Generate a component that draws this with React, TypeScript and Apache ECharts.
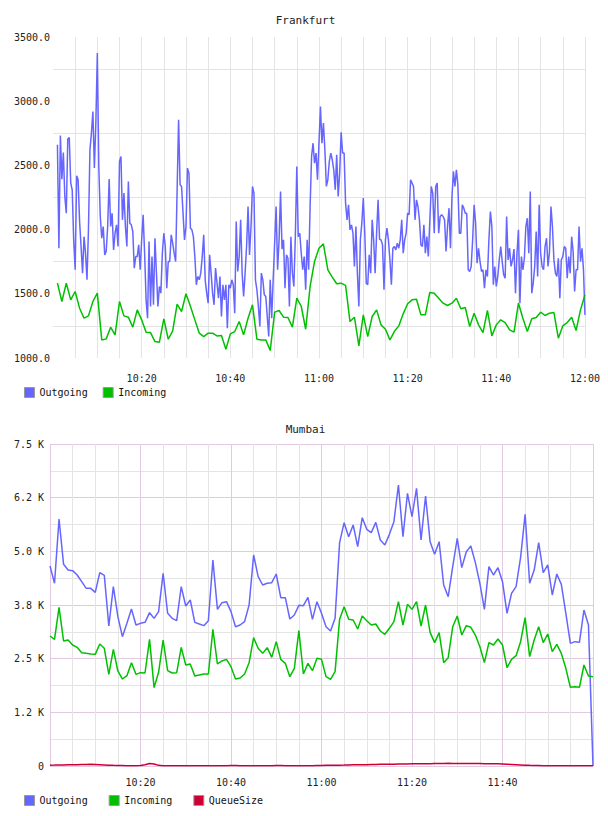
import React, { useEffect, useRef } from 'react';
import * as echarts from 'echarts';

const FONT = '"DejaVu Sans Mono", monospace';
const TEXT = '#222';

// Frankfurt: outgoing sampled every 20 s, incoming once a minute, both from 10:01
const frankfurtStart = 601; // minutes after midnight
const frankfurtOutgoingStep = 1 / 3; // minutes
const frankfurtIncomingStep = 1;
const frankfurtOutgoing = [
  2660, 1855, 2733, 2393, 2601, 2258, 2128, 2705, 2718, 2362,
  2310, 1920, 1687, 2419, 2388, 2063, 1868, 1661, 1945, 1816,
  1609, 1998, 2622, 2751, 2920, 2479, 2829, 3375, 2492, 2102,
  1933, 2024, 1803, 1829, 2024, 2393, 2024, 2128, 1842, 1972,
  2037, 1868, 2531, 2570, 2076, 2284, 2024, 1868, 2375, 2050,
  2037, 1985, 1700, 1790, 1790, 1881, 1687, 1920, 2115, 1816,
  1453, 1310, 1907, 1401, 1790, 1414, 1933, 1661, 1401, 1557,
  1505, 1816, 1972, 1868, 1544, 1751, 1751, 1959, 1894, 1816,
  1751, 2310, 2855, 2349, 2336, 2128, 1920, 2024, 2479, 2440,
  2011, 1998, 1945, 1790, 1570, 1635, 1609, 1661, 1790, 1959,
  1609, 1505, 1427, 1803, 1661, 1505, 1414, 1700, 1583, 1466,
  1635, 1323, 1570, 1453, 1570, 1232, 1570, 1544, 1609, 1570,
  1349, 2063, 1674, 1790, 2076, 1661, 1479, 1661, 1868, 2180,
  1803, 2024, 2336, 2284, 1609, 1531, 1401, 1245, 1661, 1609,
  1492, 1479, 1323, 1167, 1609, 1310, 1609, 1894, 2180, 1687,
  1920, 2297, 1848, 1920, 1544, 1803, 1777, 1401, 1945, 1661,
  1557, 1945, 2492, 1945, 1972, 1816, 1687, 1790, 1531, 1920,
  1687, 2180, 2570, 2673, 2518, 2596, 2388, 2673, 2959,
  2673, 2829, 2622, 2336, 2388, 2531, 2596, 2544, 2466, 2310,
  2583, 2258, 2440, 2757, 2596, 2596, 2206, 2076, 2193, 1998,
  2037, 1972, 1713, 2024, 1661, 1401, 1920, 2050, 2245, 1972,
  1583, 1570, 1803, 1661, 2076, 1920, 1661, 1972, 2232, 1925,
  1920, 1881, 1531, 1920, 2011, 1920, 1764, 1570, 1855, 1868,
  1842, 1894, 1855, 1920, 2076, 1816, 1920, 1972, 2128, 2115,
  2388, 2362, 2336, 2076, 2232, 2180, 2076, 1881, 1868, 2037,
  1816, 1945, 1790, 2063, 2336, 2284, 1972, 2336, 2362, 1972,
  2102, 2115, 2102, 2076, 1829, 2024, 2167, 1855, 2258, 2453,
  2336, 2466, 2349, 1972, 1972, 2193, 2167, 2128, 2128, 1687,
  1674, 1713, 1920, 2193, 2050, 1738, 1855, 1751, 1674, 1687,
  1544, 1687, 1635, 1920, 2141, 2024, 1570, 1713, 1557, 1635,
  1764, 1868, 1751, 1648, 1622, 2102, 1764, 1855, 1713, 1764,
  1848, 1505, 1816, 1998, 1427, 1790, 1687, 1777, 2024, 2089,
  1816, 2297, 1505, 1583, 1713, 1985, 1635, 2193, 1816, 1713,
  1687, 1868, 1933, 1713, 1829, 2180, 2024, 1764, 1661, 1635,
  1777, 1466, 1764, 1790, 1868, 1855, 1622, 1790, 1661, 1945,
  1829, 1518, 1687, 1687, 2024, 1751, 1855, 1687, 1336,
];
const frankfurtIncoming = [
  1583, 1440, 1583, 1453, 1518, 1388, 1310, 1328, 1440, 1505,
  1141, 1149, 1240, 1180, 1440, 1328, 1318, 1240, 1375, 1297,
  1201, 1198, 1128, 1123, 1305, 1146, 1211, 1419, 1362, 1500,
  1403, 1297, 1193, 1167, 1193, 1193, 1172, 1175, 1068, 1188,
  1206, 1284, 1180, 1310, 1414, 1146, 1141, 1141, 1058, 1357,
  1370, 1318, 1315, 1240, 1466, 1403, 1224, 1557, 1752, 1855,
  1889, 1687, 1630, 1578, 1583, 1565, 1284, 1318, 1094, 1336,
  1167, 1323, 1375, 1258, 1224, 1141, 1206, 1250, 1344, 1422,
  1453, 1458, 1336, 1336, 1510, 1505, 1466, 1427, 1409, 1427,
  1466, 1383, 1393, 1245, 1349, 1258, 1198, 1370, 1172, 1258,
  1297, 1276, 1219, 1201, 1427, 1310, 1206, 1305, 1315, 1357,
  1331, 1349, 1354, 1154, 1250, 1276, 1318, 1214, 1375, 1492,
];

// Mumbai: one sample a minute from 10:00 to 12:00
const mumbaiStart = 600;
const mumbaiStep = 1;
const mumbaiOutgoing = [
  4658, 4255, 5753, 4697, 4565, 4550, 4449, 4293, 4138, 4138,
  4045, 4503, 4441, 3261, 4177, 3478, 3012, 3323, 3657, 3284,
  3323, 3346, 3571, 3439, 3595, 4488, 3556, 3439, 3385, 4177,
  3727, 3866, 3346, 3307, 3269, 3385, 4798, 3649, 3804, 3828,
  3595, 3245, 3284, 3362, 3750, 4915, 4410, 4216, 4255, 4270,
  4472, 3921, 3921, 3424, 3517, 3742, 3734, 3929, 3416, 3828,
  3556, 3245, 3144, 3439, 5202, 5668, 5342, 5613, 5109, 5784,
  5512, 5435, 5675, 5264, 5148, 5396, 5691, 6545, 5342, 6351,
  5807, 6467, 5264, 6289, 5225, 4930, 5225, 4216, 3944, 4643,
  5303, 4620, 4992, 5124, 4736, 4255, 3649, 4643, 4449, 4620,
  4293, 3556, 4022, 4177, 4860, 5862, 4255, 4565, 5202, 4503,
  4682, 3983, 4472, 4231, 3556, 2857, 2896, 2880, 3634, 3284,
  0,
];
const mumbaiIncoming = [
  3028, 2950, 3696, 2912, 2935, 2818, 2764, 2640, 2624, 2609,
  2601, 2842, 2741, 2135, 2717, 2213, 2026, 2104, 2407, 2135,
  2174, 2166, 2950, 1825, 2182, 2935, 2221, 2166, 2174, 2764,
  2352, 2376, 2096, 2120, 2143, 2143, 3183, 2376, 2446, 2484,
  2314, 2026, 2050, 2143, 2407, 2989, 2741, 2624, 2756, 2531,
  2896, 2484, 2391, 2081, 2275, 3152, 2143, 2391, 2221, 2508,
  2484, 2081, 2019, 2197, 3416, 3711, 3416, 3401, 3191, 3494,
  3385, 3284, 3307, 3144, 3067, 3207, 3362, 3828, 3284, 3766,
  3649, 3828, 3261, 3750, 3113, 2873, 3106, 2407, 2523, 3245,
  3494, 3051, 3269, 3230, 3051, 2779, 2407, 2873, 2818, 2958,
  2818, 2290, 2484, 2570, 2896, 3455, 2547, 2935, 3245, 2873,
  3075, 2663, 2834, 2624, 2275, 1832, 1848, 1832, 2352, 2096,
  2081,
];
const mumbaiQueueSize = [
  20, 22, 25, 25, 28, 30, 32, 35, 35, 38,
  35, 30, 25, 20, 15, 12, 10, 8, 8, 8,
  10, 30, 60, 45, 15, 8, 8, 6, 5, 5,
  5, 6, 6, 5, 5, 5, 5, 5, 6, 8,
  10, 10, 8, 6, 6, 5, 5, 5, 5, 8,
  12, 10, 8, 6, 5, 5, 5, 6, 8, 10,
  12, 15, 15, 18, 20, 22, 25, 28, 30, 30,
  32, 35, 35, 38, 40, 40, 42, 45, 45, 48,
  50, 50, 52, 55, 55, 58, 60, 60, 62, 60,
  60, 58, 58, 60, 60, 58, 55, 55, 52, 50,
  45, 40, 35, 30, 25, 20, 15, 12, 10, 8,
  6, 5, 5, 5, 5, 5, 5, 5, 5, 5,
  5,
];

const mumbaiTickLabels = ['0', '1.2 K', '2.5 K', '3.8 K', '5.0 K', '6.2 K', '7.5 K'];

const COLORS = { Outgoing: '#6666ff', Incoming: '#00c000', QueueSize: '#cc0033' };
const GRAY = '#e4e4e4';
const PINK = '#e2c8e2';

const toPairs = (values: number[], start: number, step: number) =>
  values.map((v, i) => [start + i * step, v]);

const clock = (m: number) => `${Math.floor(m / 60)}:${String(Math.round(m % 60)).padStart(2, '0')}`;

const labelStyle = { fontFamily: FONT, fontSize: 10, color: TEXT };

function lineSeries(name: string, data: number[][], axis: number) {
  return {
    name,
    type: 'line',
    xAxisIndex: axis,
    yAxisIndex: axis,
    data,
    showSymbol: false,
    color: (COLORS as any)[name],
    lineStyle: { width: 1.5, color: (COLORS as any)[name] },
    z: 3,
  };
}

export default function App() {
  const ref = useRef<HTMLDivElement>(null);

  useEffect(() => {
    if (!ref.current) return;
    const chart = echarts.init(ref.current, undefined, { renderer: 'svg' });
    const legendBase = {
      orient: 'horizontal',
      left: 24,
      padding: 0,
      itemWidth: 10,
      itemHeight: 10,
      icon: 'rect',
      textStyle: { ...labelStyle, color: '#111' },
      itemStyle: { borderColor: '#999', borderWidth: 1 },
      selectedMode: false,
    };
    chart.setOption({
      animation: false,
      backgroundColor: '#fff',
      graphic: [
        { type: 'text', x: 305.5, y: 20, style: { text: 'Frankfurt', align: 'center', verticalAlign: 'middle', font: `11px ${FONT}`, fill: TEXT } },
        { type: 'text', x: 305.5, y: 429, style: { text: 'Mumbai', align: 'center', verticalAlign: 'middle', font: `11px ${FONT}`, fill: TEXT } },
      ],
      legend: [
        { ...legendBase, top: 387, itemGap: 15, data: ['Outgoing', 'Incoming'] },
        { ...legendBase, top: 795, itemGap: 21, data: ['Outgoing', 'Incoming', 'QueueSize'] },
      ],
      grid: [
        { left: 53, top: 37, width: 540, height: 321, show: false },
        { left: 50, top: 444, width: 543, height: 322, show: false },
      ],
      xAxis: [
        {
          gridIndex: 0, type: 'value', min: 600, max: 720, interval: 5,
          axisLine: { show: false }, axisTick: { show: false },
          axisLabel: { ...labelStyle, margin: 15, formatter: (m: number) => (m % 20 === 0 && m !== 600 ? clock(m) : '') },
          splitLine: { show: true, showMinLine: false, lineStyle: { color: GRAY, width: 1 } },
        },
        {
          gridIndex: 1, type: 'value', min: 600, max: 720, interval: 5,
          axisLine: { show: false }, axisTick: { show: false },
          axisLabel: { ...labelStyle, margin: 11, formatter: (m: number) => (m % 20 === 0 && m !== 600 && m !== 720 ? clock(m) : '') },
          splitLine: { show: true, lineStyle: { color: [PINK, GRAY, GRAY, GRAY], width: 1 } },
        },
      ],
      yAxis: [
        {
          gridIndex: 0, type: 'value', min: 1000, max: 3500, interval: 250,
          axisLine: { show: false }, axisTick: { show: false },
          axisLabel: { ...labelStyle, margin: 3, formatter: (v: number) => (v % 500 === 0 ? v.toFixed(1) : '') },
          splitLine: { show: true, lineStyle: { color: ['rgba(0,0,0,0)', GRAY], width: 1 } },
        },
        {
          gridIndex: 1, type: 'value', min: 0, max: 7500, interval: 625,
          axisLine: { show: false }, axisTick: { show: false },
          axisLabel: { ...labelStyle, margin: 6, formatter: (v: number) => (v % 1250 === 0 ? mumbaiTickLabels[v / 1250] : '') },
          splitLine: { show: true, lineStyle: { color: [PINK, GRAY], width: 1 } },
        },
      ],
      series: [
        lineSeries('Outgoing', toPairs(frankfurtOutgoing, frankfurtStart, frankfurtOutgoingStep), 0),
        lineSeries('Incoming', toPairs(frankfurtIncoming, frankfurtStart, frankfurtIncomingStep), 0),
        lineSeries('Outgoing', toPairs(mumbaiOutgoing, mumbaiStart, mumbaiStep), 1),
        lineSeries('Incoming', toPairs(mumbaiIncoming, mumbaiStart, mumbaiStep), 1),
        lineSeries('QueueSize', toPairs(mumbaiQueueSize, mumbaiStart, mumbaiStep), 1),
      ],
    });
    return () => chart.dispose();
  }, []);

  return (
    <div
      ref={ref}
      style={{ position: 'absolute', left: 0, top: 0, width: 603, height: 816, background: '#fff' }}
    />
  );
}
